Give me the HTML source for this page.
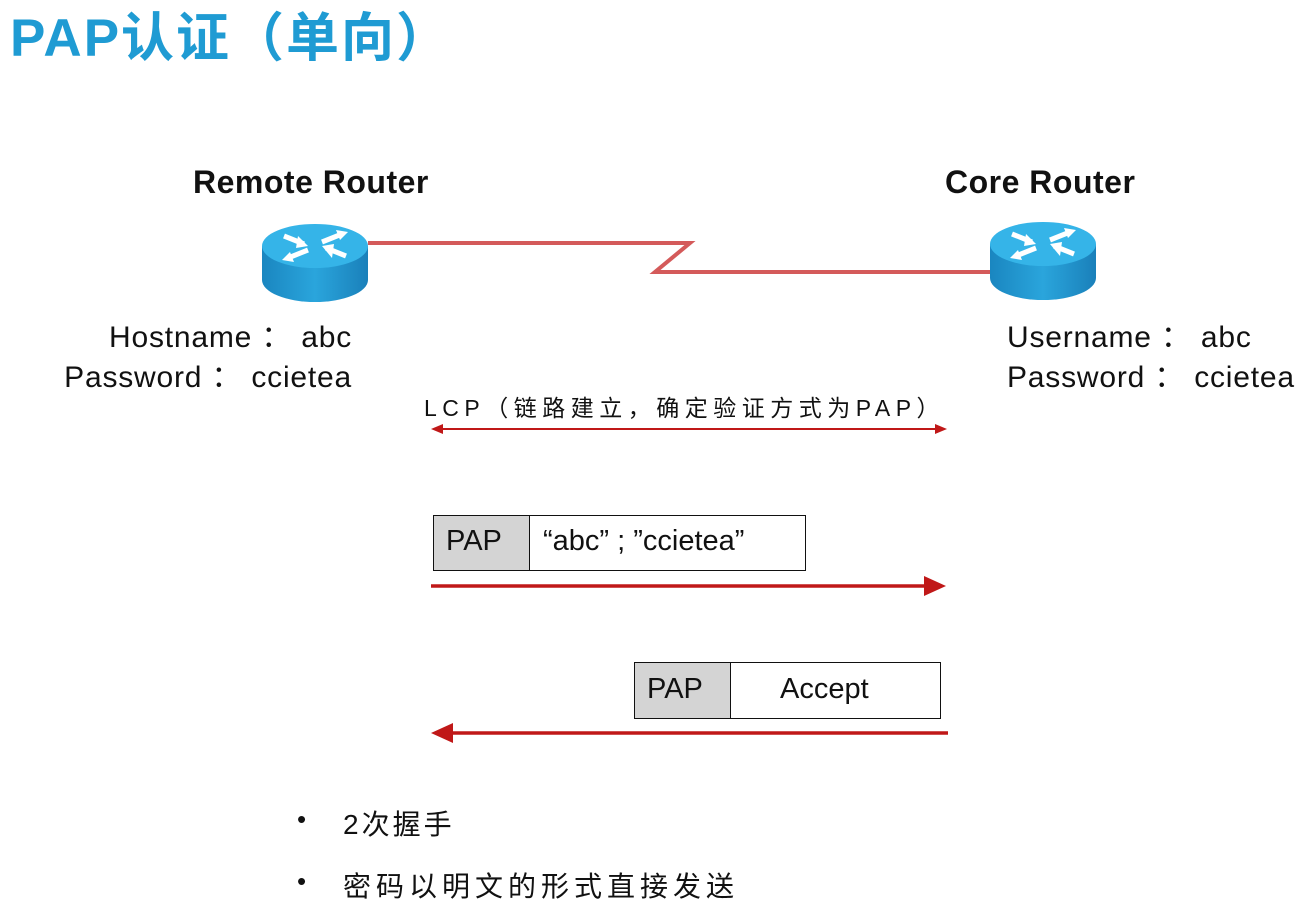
<!DOCTYPE html>
<html><head><meta charset="utf-8"><style>
body{margin:0;width:1308px;height:919px;background:#fff;position:relative;overflow:hidden;font-family:"Liberation Sans","Noto Sans CJK SC",sans-serif;color:#111}
.a{position:absolute;white-space:nowrap}
</style></head><body>
<div class="a" style="left:10px;top:-4px;font-size:53px;font-weight:bold;color:#1f9bd3;letter-spacing:2px">PAP认证（单向）</div>
<div class="a" style="left:193px;top:164px;font-size:32px;font-weight:bold;letter-spacing:0.5px">Remote Router</div>
<div class="a" style="left:945px;top:164px;font-size:32px;font-weight:bold;letter-spacing:0.5px">Core Router</div>
<svg class="a" style="left:0;top:0" width="1308" height="919">
<defs>
<linearGradient id="g" x1="0" x2="1"><stop offset="0" stop-color="#1a86c0"/><stop offset=".5" stop-color="#2aa5dc"/><stop offset="1" stop-color="#1a80ba"/></linearGradient>
<g id="r">
<path d="M0,24 L0,58 A53,22 0 0 0 106,58 L106,24 Z" fill="url(#g)"/>
<ellipse cx="53" cy="24" rx="53" ry="22" fill="#35b4e8"/>
<g stroke="#fff" stroke-width="5" fill="#fff">
<line x1="22" y1="14" x2="42" y2="22"/><line x1="64" y1="26" x2="84" y2="34"/>
<line x1="60" y1="20" x2="80" y2="12"/><line x1="46" y1="28" x2="26" y2="36"/>
</g>
<polygon points="46,24 36,14 34,26" fill="#fff"/><polygon points="60,24 70,36 72,22" fill="#fff"/>
<polygon points="86,10 74,8 78,18" fill="#fff"/><polygon points="20,38 32,40 28,30" fill="#fff"/>
</g>
</defs>
<polyline points="368,243 690,243 655,272 990,272" fill="none" stroke="#d45a5a" stroke-width="4"/>
<use href="#r" x="262" y="222"/>
<use href="#r" x="990" y="220"/>
<line x1="440" y1="429" x2="938" y2="429" stroke="#c01818" stroke-width="2"/>
<polygon points="431,429 443,424 443,434" fill="#c01818"/>
<polygon points="947,429 935,424 935,434" fill="#c01818"/>
<rect x="433.5" y="515.5" width="96" height="55" fill="#d4d4d4" stroke="#111"/>
<rect x="529.5" y="515.5" width="276" height="55" fill="#fff" stroke="#111"/>
<line x1="431" y1="586" x2="928" y2="586" stroke="#c01818" stroke-width="3.5"/>
<polygon points="946,586 924,576 924,596" fill="#c01818"/>
<rect x="634.5" y="662.5" width="96" height="56" fill="#d4d4d4" stroke="#111"/>
<rect x="730.5" y="662.5" width="210" height="56" fill="#fff" stroke="#111"/>
<line x1="450" y1="733" x2="948" y2="733" stroke="#c01818" stroke-width="3.5"/>
<polygon points="431,733 453,723 453,743" fill="#c01818"/>
</svg>
<div class="a" style="right:956px;top:318px;font-size:30px;text-align:right;line-height:40px;letter-spacing:0.8px">Hostname&nbsp;：&nbsp;abc<br>Password&nbsp;：&nbsp;ccietea</div>
<div class="a" style="left:1007px;top:318px;font-size:30px;line-height:40px;letter-spacing:0.8px">Username&nbsp;：&nbsp;abc<br>Password&nbsp;：&nbsp;ccietea</div>
<div class="a" style="left:424px;top:389px;font-size:23px;letter-spacing:5.5px">LCP（链路建立，确定验证方式为PAP）</div>
<div class="a" style="left:446px;top:525px;font-size:29px">PAP</div>
<div class="a" style="left:543px;top:525px;font-size:29px">“abc”&nbsp;;&nbsp;”ccietea”</div>
<div class="a" style="left:647px;top:673px;font-size:29px">PAP</div>
<div class="a" style="left:780px;top:673px;font-size:29px">Accept</div>
<div class="a" style="left:297px;top:804px;font-size:26px">•</div>
<div class="a" style="left:343px;top:803px;font-size:28px;letter-spacing:3px">2次握手</div>
<div class="a" style="left:297px;top:866px;font-size:26px">•</div>
<div class="a" style="left:343px;top:865px;font-size:28px;letter-spacing:5px">密码以明文的形式直接发送</div>
</body></html>
